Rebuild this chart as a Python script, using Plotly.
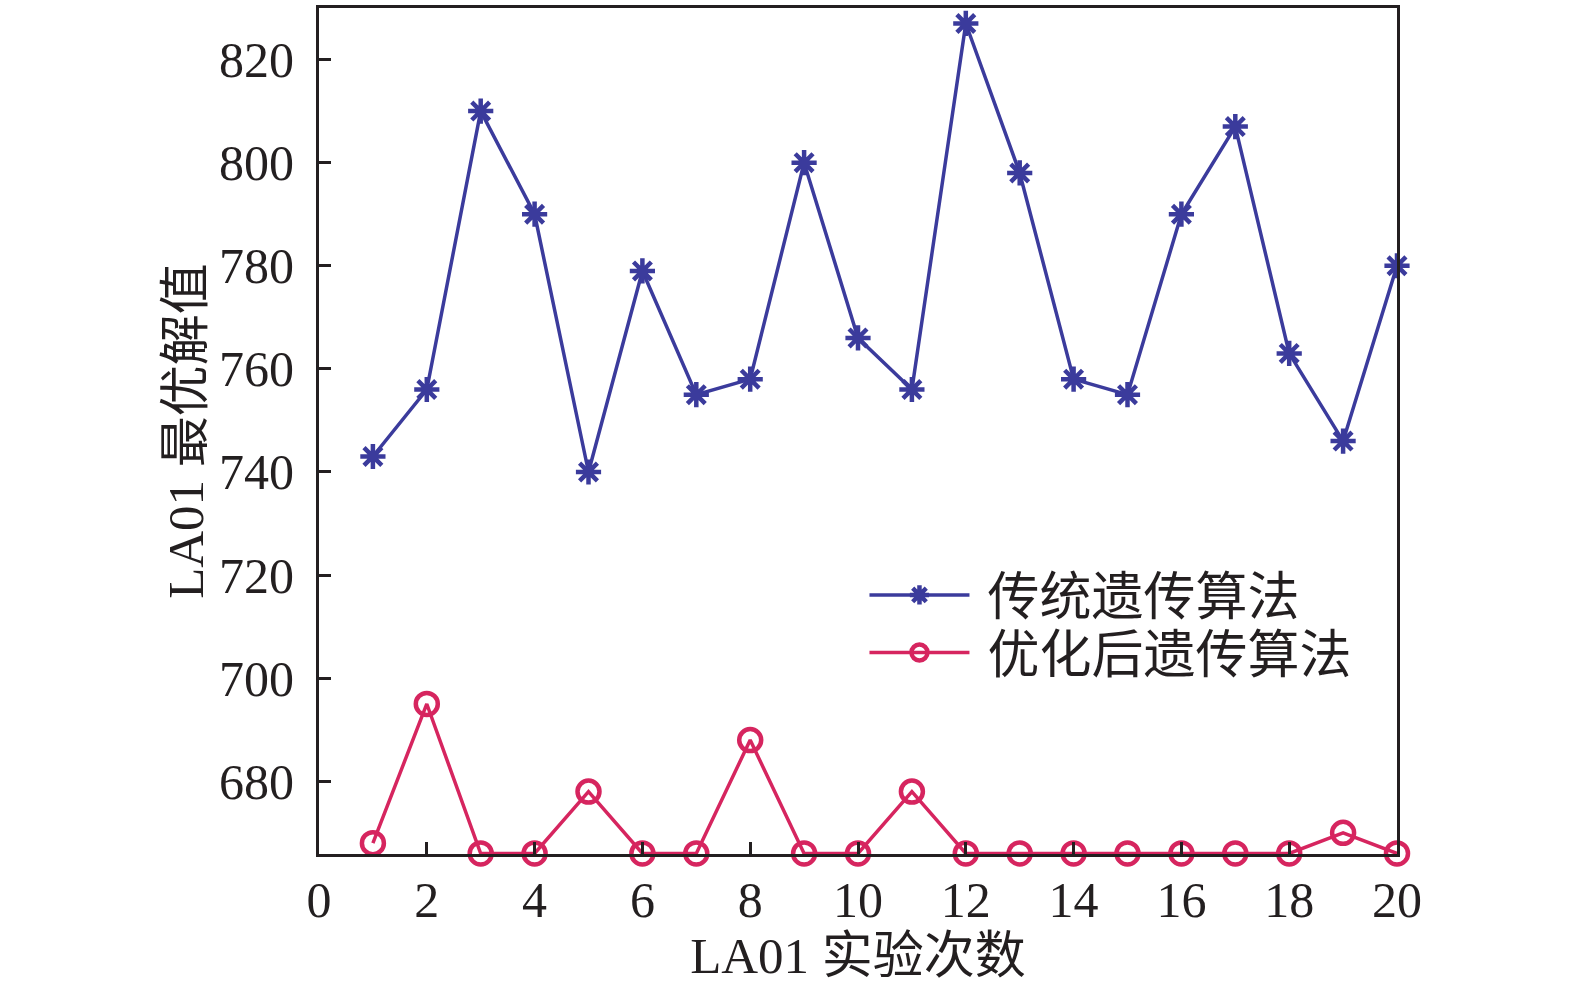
import plotly.graph_objects as go

# experiment runs
runs = list(range(1, 21))
# 传统遗传算法 best values
traditional = [743, 756, 810, 790, 740, 779, 755, 758, 800, 766,
               756, 827, 798, 758, 755, 790, 807, 763, 746, 780]
# 优化后遗传算法 best values
optimized = [668, 695, 666, 666, 678, 666, 666, 688, 666, 666,
             678, 666, 666, 666, 666, 666, 666, 666, 670, 666]

x_ticks = list(range(0, 21, 2))
y_ticks = [680, 700, 720, 740, 760, 780, 800, 820]

font_family = "Liberation Serif, Times New Roman, Noto Sans CJK SC"
blue = "#3b3b9c"
pink = "#d6255f"

fig = go.Figure()
fig.add_trace(go.Scatter(
    x=runs, y=traditional, name="\u00a0传统遗传算法", mode="lines+markers",
    line=dict(color=blue, width=3.5),
    marker=dict(symbol="asterisk-open", size=21, color=blue,
                line=dict(color=blue, width=4.5)),
    cliponaxis=False, legend="legend",
))
fig.add_trace(go.Scatter(
    x=runs, y=optimized, name="\u00a0优化后遗传算法", mode="lines+markers",
    line=dict(color=pink, width=3.5),
    marker=dict(symbol="circle-open", size=22, color=pink,
                line=dict(color=pink, width=4.5)),
    cliponaxis=False, legend="legend2",
))

legend_style = dict(xanchor="left", yanchor="middle", bgcolor="rgba(0,0,0,0)",
                    font=dict(size=52), itemwidth=100)

fig.update_layout(
    width=1575, height=996,
    margin=dict(l=319, r=178, t=5, b=142),
    paper_bgcolor="white", plot_bgcolor="white",
    font=dict(family=font_family, size=50, color="#231f20"),
    showlegend=True,
    legend=dict(x=0.506, y=0.306, **legend_style),
    legend2=dict(x=0.506, y=0.238, **legend_style),
)
fig.update_xaxes(
    range=[0, 20], tickvals=x_ticks, ticks="inside", ticklen=12, tickwidth=3,
    tickcolor="#231f20", showline=True, linecolor="#231f20", linewidth=3,
    mirror=True, showgrid=False, zeroline=False,
    tickfont=dict(size=50), ticklabelstandoff=0,
    title=dict(text="LA01 实验次数", font=dict(size=51), standoff=10),
)
fig.update_yaxes(
    range=[665.9, 830], tickvals=y_ticks, ticks="inside", ticklen=12, tickwidth=3,
    tickcolor="#231f20", showline=True, linecolor="#231f20", linewidth=3,
    mirror=True, showgrid=False, zeroline=False,
    tickfont=dict(size=50), ticklabelstandoff=12,
    title=dict(text="LA01 最优解值", font=dict(size=51), standoff=0),
)

fig.write_html("out.html", config={"displayModeBar": False},
               post_script="document.body.style.margin='0';")
